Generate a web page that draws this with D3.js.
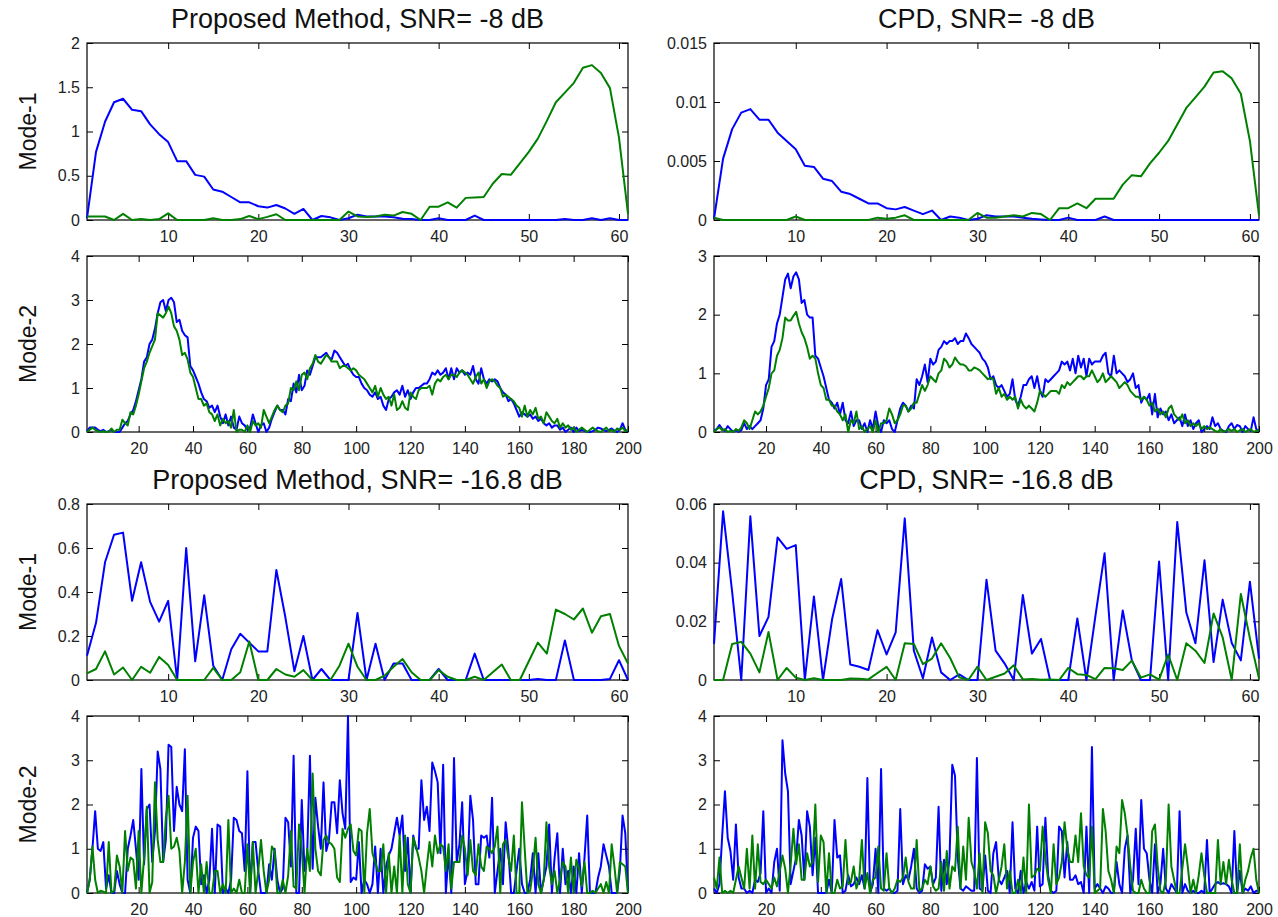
<!DOCTYPE html>
<html>
<head>
<meta charset="utf-8">
<script src="https://cdn.jsdelivr.net/npm/d3@7"></script>
<style>
  body { margin: 0; background: #fff; }
  svg { display: block; font-family: "Liberation Sans", Arial, Helvetica, sans-serif; }
</style>
</head>
<body>
<div id="chart"></div>
<script>
// ---- data ----
const mode1Ticks = [10, 20, 30, 40, 50, 60];
const mode2Ticks = [20, 40, 60, 80, 100, 120, 140, 160, 180, 200];

// Proposed method, SNR = -8 dB
const p8Mode1Blue = [0.02,0.77,1.11,1.33,1.37,1.245,1.23,1.08,0.97,0.88,
  0.665,0.665,0.51,0.49,0.345,0.32,0.26,0.2,0.2,0.155,
  0.14,0.17,0.13,0.07,0.125,0,0.045,0.03,0,0.02,
  0.06,0.04,0.04,0.04,0.03,0.015,0.01,0,0,0.02,
  0,0,0,0.05,0,0,0,0,0,0,
  0,0,0,0.01,0,0,0.02,0,0.02,0,
  0];
const p8Mode1Green = [0.04,0.04,0.04,0,0.07,0,0.01,0,0.01,0.075,
  0,0,0,0,0.02,0,0,0.01,0.045,0.01,
  0.035,0.065,0,0,0,0,0,0,0,0.095,
  0.04,0.035,0.04,0.06,0.05,0.09,0.07,0,0.15,0.15,
  0.2,0.14,0.25,0.255,0.26,0.41,0.52,0.51,0.64,0.77,
  0.92,1.12,1.33,1.44,1.55,1.72,1.75,1.66,1.49,0.93,
  0.07];
const p8Mode2Blue = [0.02,0.1,0.1,0.1,0.05,0.02,0.05,0.0,0.02,0.05,
  0.0,0.0,0.0,0.1,0.2,0.25,0.4,0.5,0.7,0.95,
  1.2,1.6,1.7,2.0,2.1,2.35,2.7,2.95,3.0,2.75,
  3.0,3.05,2.95,2.5,2.55,2.3,2.2,2.15,1.5,1.4,
  1.25,1.1,0.9,0.75,0.7,0.55,0.6,0.45,0.6,0.35,
  0.2,0.4,0.15,0.35,0.1,0.05,0.35,0.2,0.15,0.05,
  0.1,0.4,0.2,0.0,0.15,0.2,0.0,0.1,0.3,0.45,
  0.6,0.5,0.5,0.4,0.75,0.7,1.1,0.9,1.3,0.95,
  1.05,1.4,1.3,1.5,1.7,1.7,1.7,1.75,1.8,1.7,
  1.65,1.85,1.8,1.7,1.6,1.5,1.55,1.4,1.3,1.25,
  1.25,1.1,1.0,0.95,0.85,0.8,0.9,0.75,0.8,0.6,
  0.5,0.75,0.8,0.9,0.95,0.85,1.05,0.8,0.95,0.75,
  0.9,1.0,1.0,1.05,1.1,1.1,1.2,1.35,1.3,1.4,
  1.3,1.35,1.45,1.2,1.45,1.2,1.45,1.35,1.4,1.3,
  1.35,1.3,1.5,1.2,1.1,1.45,1.2,1.1,1.2,1.15,
  1.2,1.15,1.0,0.9,0.85,0.7,0.75,0.65,0.5,0.35,
  0.45,0.4,0.35,0.4,0.3,0.35,0.25,0.3,0.2,0.15,
  0.2,0.1,0.15,0.15,0.05,0.1,0.0,0.05,0.1,0.0,
  0.1,0.02,0.05,0.03,0.0,0.0,0.02,0.05,0.1,0.08,
  0.05,0.02,0.05,0.08,0.03,0.0,0.05,0.2,0.05,0.02];
const p8Mode2Green = [0.0,0.05,0.1,0.05,0.02,0.0,0.02,0.0,0.0,0.08,
  0.0,0.05,0.05,0.28,0.2,0.15,0.45,0.4,0.6,0.85,
  1.15,1.45,1.6,1.8,1.95,2.1,2.7,2.65,2.6,2.7,
  2.85,2.7,2.4,2.3,2.1,1.75,1.8,1.65,1.35,1.25,
  1.0,0.75,0.75,0.6,0.65,0.45,0.4,0.25,0.4,0.15,
  0.3,0.2,0.25,0.1,0.5,0.0,0.05,0.05,0.0,0.15,
  0.0,0.25,0.15,0.2,0.1,0.5,0.35,0.2,0.35,0.5,
  0.6,0.5,0.45,0.6,0.65,1.0,0.95,1.15,0.95,1.3,
  1.35,1.2,1.45,1.55,1.75,1.6,1.55,1.65,1.75,1.7,
  1.6,1.6,1.6,1.45,1.5,1.5,1.45,1.4,1.45,1.4,
  1.3,1.25,1.2,1.1,1.0,0.9,1.05,0.8,1.0,0.85,
  0.75,0.8,0.6,0.85,0.5,0.55,0.7,0.55,0.5,0.9,
  0.8,0.75,0.95,1.0,1.0,1.0,1.05,0.85,1.1,1.2,
  1.15,1.25,1.3,1.2,1.3,1.3,1.25,1.35,1.4,1.35,
  1.3,1.2,1.1,1.25,1.35,1.1,1.2,1.0,1.15,1.2,
  1.15,1.05,1.0,0.8,0.85,0.8,0.75,0.7,0.6,0.55,
  0.35,0.6,0.35,0.5,0.4,0.55,0.3,0.35,0.2,0.45,
  0.35,0.25,0.2,0.3,0.1,0.2,0.1,0.15,0.05,0.1,
  0.0,0.05,0.1,0.05,0.0,0.05,0.1,0.05,0.02,0.0,
  0.05,0.1,0.02,0.05,0.0,0.08,0.05,0.1,0.02,0.05];

// CPD, SNR = -8 dB
const c8Mode1Blue = [0.0001,0.0052,0.0077,0.0091,0.0094,0.0085,0.0085,0.0074,0.0067,0.006,
  0.0046,0.0045,0.0035,0.0033,0.0024,0.0022,0.0018,0.0014,0.0014,0.001,
  0.0009,0.0011,0.0008,0.0005,0.0008,0,0.0003,0.0002,0,0.0001,
  0.0004,0.0003,0.0003,0.0003,0.0002,0.0001,0.00005,0,0,0.0002,
  0,0,0,0.0003,0,0,0,0,0,0,
  0,0,0,0,0,0,0,0,0,0,
  0];
const c8Mode1Green = [0.0002,0,0,0,0,0,0,0,0,0.0003,
  0,0,0,0,0,0,0,0,0.0002,0.0001,
  0.0002,0.0004,0,0,0,0,0,0,0,0.0006,
  0.0002,0.0002,0.0003,0.0004,0.0003,0.0006,0.0005,0,0.001,0.001,
  0.0014,0.001,0.0018,0.0018,0.0018,0.003,0.0038,0.0037,0.0048,0.0057,
  0.0067,0.0081,0.0095,0.0104,0.0113,0.0125,0.0126,0.012,0.0107,0.0067,
  0.0004];
const c8Mode2Blue = [0.02,0.05,0.12,0.05,0.02,0.1,0.05,0.0,0.03,0.0,
  0.03,0.15,0.05,0.1,0.05,0.1,0.15,0.2,0.4,0.8,
  0.9,1.45,1.55,1.85,2.0,2.3,2.6,2.7,2.45,2.65,
  2.72,2.6,2.2,2.25,2.0,1.95,1.95,1.3,1.25,1.1,
  0.95,0.75,0.55,0.5,0.4,0.5,0.3,0.5,0.2,0.15,
  0.35,0.1,0.2,0.2,0.05,0.15,0.0,0.2,0.05,0.35,
  0.1,0.0,0.2,0.15,0.2,0.05,0.0,0.2,0.4,0.5,
  0.45,0.35,0.45,0.4,0.9,0.8,0.95,1.15,0.85,1.25,
  1.15,1.2,1.4,1.45,1.55,1.5,1.55,1.55,1.6,1.5,
  1.55,1.55,1.68,1.6,1.5,1.45,1.4,1.35,1.25,1.2,
  1.1,0.9,0.95,0.8,0.75,0.8,0.7,0.6,0.65,0.9,
  0.55,0.45,0.6,0.8,0.8,0.9,0.95,0.75,0.95,0.7,
  0.6,0.9,0.85,0.9,0.95,1.0,1.05,1.2,1.15,1.2,
  1.05,1.25,1.0,1.3,1.1,1.25,0.95,1.25,1.15,1.2,
  1.2,1.2,1.3,1.35,1.0,0.95,1.3,1.0,1.05,1.0,
  0.95,0.85,0.9,1.0,0.75,0.8,0.5,0.6,0.55,0.65,
  0.3,0.65,0.25,0.4,0.3,0.35,0.2,0.3,0.15,0.2,
  0.25,0.1,0.3,0.1,0.2,0.05,0.15,0.2,0.0,0.05,
  0.1,0.05,0.25,0.1,0.15,0.05,0.02,0.0,0.1,0.15,
  0.05,0.12,0.1,0.0,0.1,0.05,0.02,0.25,0.05,0.02];
const c8Mode2Green = [0.0,0.05,0.08,0.03,0.05,0.0,0.02,0.0,0.05,0.02,
  0.08,0.2,0.15,0.05,0.2,0.35,0.3,0.35,0.45,0.6,
  0.75,1.0,1.05,1.3,1.4,1.6,1.95,1.9,1.9,1.98,
  2.05,1.85,1.7,1.6,1.45,1.25,1.3,1.25,1.0,0.8,
  0.75,0.55,0.55,0.45,0.45,0.35,0.3,0.2,0.3,0.0,
  0.2,0.15,0.35,0.05,0.1,0.0,0.05,0.1,0.0,0.2,
  0.0,0.15,0.15,0.2,0.4,0.3,0.15,0.2,0.3,0.45,
  0.45,0.35,0.4,0.5,0.5,0.65,0.8,0.7,0.8,0.95,
  0.9,0.85,1.0,1.05,1.25,1.2,1.1,1.15,1.27,1.2,
  1.15,1.15,1.12,1.05,1.05,1.1,1.08,1.05,1.0,0.95,
  0.9,0.92,0.9,0.65,0.75,0.6,0.65,0.55,0.6,0.55,
  0.6,0.4,0.55,0.45,0.4,0.45,0.4,0.35,0.5,0.7,
  0.65,0.6,0.65,0.7,0.7,0.7,0.65,0.8,0.75,0.85,
  0.8,0.85,0.9,0.95,0.95,0.9,0.95,0.95,1.05,0.95,
  0.85,0.9,1.0,0.85,0.9,0.95,0.9,0.85,0.75,0.8,
  0.85,0.8,0.7,0.65,0.6,0.6,0.55,0.6,0.55,0.45,
  0.5,0.35,0.4,0.3,0.35,0.25,0.4,0.45,0.3,0.25,
  0.2,0.3,0.15,0.2,0.1,0.15,0.1,0.15,0.05,0.1,
  0.05,0.08,0.05,0.02,0.0,0.05,0.0,0.02,0.05,0.02,
  0.05,0.0,0.03,0.05,0.0,0.03,0.05,0.0,0.02,0.03];

// Proposed method, SNR = -16.8 dB
const p16Mode1Blue = [0.11,0.26,0.535,0.66,0.67,0.36,0.535,0.355,0.265,0.36,
  0,0.6,0.085,0.385,0.065,0,0.14,0.21,0.17,0.13,
  0.13,0.5,0.285,0.04,0.2,0,0.05,0,0,0,
  0.305,0,0.165,0,0.075,0.075,0,0,0,0.05,
  0,0,0,0.12,0,0,0,0,0,0,
  0.005,0,0,0.18,0,0,0,0,0.005,0.09,
  0];
const p16Mode1Green = [0.03,0.05,0.13,0.025,0.057,0,0.06,0.033,0.105,0.068,
  0,0,0,0,0.055,0,0,0.035,0.175,0,
  0,0.05,0.025,0.015,0.045,0,0,0,0.065,0.165,
  0.06,0,0,0.02,0.06,0.095,0.035,0,0,0.045,
  0.015,0,0,0.015,0,0.035,0.07,0,0,0.085,
  0.17,0.12,0.32,0.3,0.275,0.325,0.215,0.29,0.3,0.155,
  0.075];
const p16Mode2Blue = [0.0,0.3,1.0,1.85,1.0,0.95,1.15,0.1,0.4,0.0,
  0.0,0.5,0.2,0.0,0.0,1.0,1.3,1.65,1.0,0.3,
  2.8,0.65,1.9,2.0,0.7,1.4,3.2,2.8,0.7,1.2,
  3.35,3.3,1.4,2.4,2.0,1.85,3.25,0.3,0.0,1.25,
  1.5,1.4,0.2,0.4,0.0,0.3,1.45,0.0,1.55,1.5,
  0.0,0.1,0.0,0.3,1.7,1.65,1.4,1.35,0.5,2.75,
  0.0,1.15,1.15,0.5,0.0,0.0,0.0,0.65,0.3,1.0,
  0.3,0.0,0.1,1.7,1.6,0.6,3.1,0.0,0.0,2.1,
  0.5,0.9,3.1,0.55,2.15,1.5,1.0,2.5,0.95,1.2,
  2.05,2.05,1.35,2.55,1.8,1.45,4.0,0.25,0.35,0.3,
  1.15,0.0,0.3,0.2,0.0,0.2,1.05,0.0,1.0,0.0,
  0.6,0.85,1.0,1.35,1.7,1.3,1.75,0.5,1.25,0.0,
  1.3,1.0,1.0,2.55,1.65,1.95,1.4,2.95,2.75,2.5,
  0.9,2.9,0.0,0.9,0.0,3.05,0.7,1.1,2.05,0.2,
  0.5,2.2,1.65,0.2,0.2,1.3,1.25,1.3,0.8,2.15,
  0.0,0.5,1.0,0.2,1.6,0.95,0.0,0.0,0.5,1.0,
  0.2,0.0,0.0,0.3,0.9,0.0,0.9,0.0,0.3,0.6,
  1.55,0.0,0.8,1.35,0.0,1.0,0.2,0.5,0.0,0.6,
  0.0,0.9,0.0,0.8,1.75,0.0,0.0,0.0,0.35,0.6,
  1.1,0.85,0.6,0.0,0.0,0.0,0.5,1.75,1.35,0.0];
const p16Mode2Green = [0.0,0.3,1.05,0.3,0.0,0.05,0.03,0.0,1.15,0.0,
  0.05,0.85,0.6,0.0,1.4,0.5,0.8,0.75,0.1,1.4,
  0.0,0.8,1.95,0.0,0.25,2.5,1.2,0.7,0.7,1.7,
  2.2,1.0,1.05,1.25,0.95,0.0,0.7,2.2,0.0,0.7,
  1.0,0.0,0.65,0.0,0.7,0.0,0.0,0.5,0.5,0.0,
  0.2,0.0,1.65,0.0,0.1,0.0,0.3,0.0,0.0,1.1,
  0.0,1.15,0.0,0.5,1.2,0.5,0.0,0.3,1.05,0.95,
  0.0,0.0,0.3,0.0,0.4,1.4,0.15,0.1,1.55,1.0,
  0.0,1.0,0.5,2.7,1.0,0.5,0.4,1.2,1.3,1.15,
  1.1,1.0,0.35,0.25,1.45,1.25,1.45,1.55,0.95,0.85,
  1.45,1.4,0.0,1.35,1.9,0.9,0.7,0.5,0.5,1.1,
  0.0,0.9,0.0,0.6,0.0,1.3,0.0,1.3,0.2,0.0,
  1.25,1.05,0.8,0.5,0.0,0.6,1.15,0.6,1.3,0.9,
  1.1,1.05,0.5,1.1,0.1,0.7,0.7,0.7,1.3,1.0,
  0.4,1.2,0.5,0.4,1.1,0.6,0.5,1.05,1.0,0.9,
  1.05,1.5,0.0,1.1,1.2,0.8,0.5,1.3,0.0,0.0,
  2.05,1.0,0.0,0.05,0.5,1.25,0.2,0.0,0.3,1.6,
  0.6,0.2,0.5,0.0,0.3,0.7,0.6,0.0,0.8,0.0,
  0.75,0.55,0.15,0.7,0.0,0.0,0.05,0.0,0.1,0.2,
  0.0,0.25,0.0,1.1,0.6,0.0,0.7,0.65,0.6,0.0];

// CPD, SNR = -16.8 dB
const c16Mode1Blue = [0.0123,0.0575,0.03,0,0.0558,0.015,0.0215,0.0486,0.0447,0.046,
  0,0.0285,0,0.0207,0.0344,0.0053,0.0045,0.0034,0.017,0.0087,
  0.0162,0.0551,0.01,0.0006,0.0145,0.0026,0,0.0019,0,0,
  0.0342,0.01,0.0056,0,0.029,0.009,0.014,0,0,0,
  0.021,0,0.022,0.0432,0,0.0237,0.0067,0,0,0.0404,
  0,0.0539,0.023,0.0125,0.0408,0.0061,0.0274,0.0126,0.0067,0.0335,
  0.0073];
const c16Mode1Green = [0,0,0.0123,0.013,0.009,0.0026,0.0164,0,0.0041,0.0008,
  0,0.0006,0,0,0,0.0005,0.0004,0.0002,0.0024,0.0045,
  0,0.0125,0.0123,0.0054,0.0073,0.0125,0.0075,0.0009,0,0.0045,
  0,0.0011,0.0022,0.005,0.0002,0.0003,0.0001,0.0002,0,0.0041,
  0.002,0.0017,0.0003,0.0041,0.004,0.0034,0.0066,0.0008,0.0019,0.0001,
  0.0087,0,0.0125,0.01,0.0058,0.0227,0.0145,0,0.0293,0.0142,
  0.0005];
const c16Mode2Blue = [0.1,0.0,0.2,1.3,2.3,1.25,0.95,0.3,1.55,0.35,
  0.1,0.1,0.0,0.05,0.0,0.3,0.25,0.45,1.85,0.0,
  0.1,0.0,0.7,1.0,0.05,3.45,2.7,2.3,0.2,0.5,
  0.8,1.65,1.3,0.3,1.85,1.5,0.4,1.25,0.0,0.0,
  0.0,0.0,0.3,0.0,1.65,0.8,0.85,0.0,0.05,0.4,
  0.15,0.2,0.35,0.2,0.4,0.1,2.6,0.0,0.2,1.0,
  0.0,2.8,0.1,0.05,0.1,0.0,0.0,0.05,1.9,0.2,
  0.4,0.3,0.6,1.0,0.1,0.0,0.05,0.65,0.55,0.6,
  0.2,0.35,1.95,0.05,0.75,0.2,0.8,2.9,2.65,0.8,
  0.1,0.05,0.15,0.1,0.05,0.05,3.05,0.1,0.05,0.85,
  0.05,0.0,0.9,1.15,0.3,0.2,0.35,0.5,0.0,1.6,
  0.1,0.0,0.5,0.0,0.25,0.1,0.25,0.05,1.5,0.15,
  0.2,1.7,0.4,0.05,0.0,0.05,1.5,1.4,0.35,1.15,
  0.3,0.3,0.4,0.2,0.25,0.0,1.5,0.0,3.3,0.1,
  0.2,0.1,0.0,0.15,0.1,0.0,0.0,0.7,0.2,0.0,
  1.0,1.3,0.0,0.3,1.45,0.2,2.1,1.0,0.9,0.3,
  0.0,1.1,0.0,0.2,1.0,0.1,0.0,0.2,0.1,0.0,
  1.85,0.0,0.2,0.05,0.0,0.05,0.0,0.0,0.05,0.0,
  1.2,0.0,0.1,0.2,0.25,0.2,0.22,0.2,0.15,0.0,
  1.4,0.0,0.5,0.0,0.1,0.05,0.15,0.0,0.05,0.05];
const c16Mode2Green = [0.35,0.1,0.8,0.0,0.05,0.0,0.05,0.0,0.3,0.6,
  0.35,0.1,1.0,0.1,1.3,0.1,1.1,0.25,0.2,0.3,
  0.2,0.1,0.35,0.15,0.5,0.85,0.55,0.0,0.65,1.45,
  0.65,1.1,0.3,0.3,0.9,0.6,0.7,2.0,0.25,1.3,
  1.15,0.0,0.9,0.0,0.0,0.3,0.1,0.15,1.2,0.2,
  0.25,0.6,0.1,0.3,1.2,0.1,0.45,0.0,0.3,0.35,
  1.05,0.1,0.05,0.9,0.1,0.0,0.1,0.3,0.25,0.35,
  0.8,0.25,0.1,0.1,1.2,0.05,0.1,0.3,0.2,0.6,
  0.15,0.05,0.1,0.7,0.05,0.95,0.1,0.6,0.5,1.5,
  0.1,1.05,0.3,1.7,0.7,0.5,0.1,0.9,0.0,1.6,
  1.35,0.5,0.4,0.0,0.3,0.6,1.1,0.1,0.5,0.0,
  0.0,0.3,0.0,0.8,0.0,2.0,0.35,0.4,0.55,0.5,
  1.5,0.8,0.3,0.0,1.1,0.2,0.35,0.7,1.6,1.0,
  0.7,0.7,1.3,0.7,1.8,0.6,0.4,0.35,1.5,0.0,
  0.05,0.1,1.9,1.4,0.5,0.3,0.0,1.05,0.9,2.1,
  1.8,1.3,0.6,0.05,0.0,0.0,0.3,0.1,0.0,0.0,
  1.4,1.55,0.6,0.05,0.0,0.3,2.0,0.6,0.3,0.0,
  0.0,0.55,1.1,0.6,0.0,0.3,0.0,0.4,0.9,0.4,
  0.0,0.0,0.0,0.0,1.2,0.2,0.7,0.2,0.75,0.3,
  0.0,0.0,1.1,0.0,0.3,0.5,0.8,1.0,0.3,0.0];

// ---- layout ----
const W = 1278, H = 917;
const cols = [{ left: 87, right: 628 }, { left: 714, right: 1259 }];
const rows = [{ top: 43, bottom: 220 }, { top: 256, bottom: 432 }, { top: 504, bottom: 680 }, { top: 716, bottom: 893 }];
const BLUE = '#0000ff', GREEN = '#008000';

const panels = [
  { row: 0, col: 0, n: 61, xTicks: mode1Ticks, yMax: 2, yTicks: [0, 0.5, 1, 1.5, 2], blue: p8Mode1Blue, green: p8Mode1Green, title: 'Proposed Method, SNR= -8 dB', ylabel: 'Mode-1' },
  { row: 0, col: 1, n: 61, xTicks: mode1Ticks, yMax: 0.015, yTicks: [0, 0.005, 0.01, 0.015], blue: c8Mode1Blue, green: c8Mode1Green, title: 'CPD, SNR= -8 dB' },
  { row: 1, col: 0, n: 200, xTicks: mode2Ticks, yMax: 4, yTicks: [0, 1, 2, 3, 4], blue: p8Mode2Blue, green: p8Mode2Green, ylabel: 'Mode-2' },
  { row: 1, col: 1, n: 200, xTicks: mode2Ticks, yMax: 3, yTicks: [0, 1, 2, 3], blue: c8Mode2Blue, green: c8Mode2Green },
  { row: 2, col: 0, n: 61, xTicks: mode1Ticks, yMax: 0.8, yTicks: [0, 0.2, 0.4, 0.6, 0.8], blue: p16Mode1Blue, green: p16Mode1Green, title: 'Proposed Method, SNR= -16.8 dB', ylabel: 'Mode-1' },
  { row: 2, col: 1, n: 61, xTicks: mode1Ticks, yMax: 0.06, yTicks: [0, 0.02, 0.04, 0.06], blue: c16Mode1Blue, green: c16Mode1Green, title: 'CPD, SNR= -16.8 dB' },
  { row: 3, col: 0, n: 200, xTicks: mode2Ticks, yMax: 4, yTicks: [0, 1, 2, 3, 4], blue: p16Mode2Blue, green: p16Mode2Green, ylabel: 'Mode-2' },
  { row: 3, col: 1, n: 200, xTicks: mode2Ticks, yMax: 4, yTicks: [0, 1, 2, 3, 4], blue: c16Mode2Blue, green: c16Mode2Green }
];

const svg = d3.select('#chart').append('svg')
  .attr('width', W)
  .attr('height', H);

panels.forEach(p => {
  const c = cols[p.col], r = rows[p.row];
  const x = d3.scaleLinear().domain([1, p.n]).range([c.left, c.right]);
  const y = d3.scaleLinear().domain([0, p.yMax]).range([r.bottom, r.top]);
  const g = svg.append('g');
  const tick = 6;

  // axes, MATLAB style: ticks pointing inward on all four sides
  g.append('g')
    .attr('transform', `translate(0,${r.bottom})`)
    .call(d3.axisBottom(x).tickValues(p.xTicks).tickFormat(d => d).tickSizeInner(-tick).tickSizeOuter(0).tickPadding(11));
  g.append('g')
    .attr('transform', `translate(0,${r.top})`)
    .call(d3.axisTop(x).tickValues(p.xTicks).tickFormat('').tickSizeInner(-tick).tickSizeOuter(0));
  g.append('g')
    .attr('transform', `translate(${c.left},0)`)
    .call(d3.axisLeft(y).tickValues(p.yTicks).tickFormat(d => String(d)).tickSizeInner(-tick).tickSizeOuter(0).tickPadding(7));
  g.append('g')
    .attr('transform', `translate(${c.right},0)`)
    .call(d3.axisRight(y).tickValues(p.yTicks).tickFormat('').tickSizeInner(-tick).tickSizeOuter(0));

  g.selectAll('.domain').remove();
  g.selectAll('.tick line').attr('stroke', '#000');
  g.selectAll('.tick text')
    .attr('fill', '#222')
    .style('font-size', '16px')
    .style('font-family', '"Liberation Sans", Arial, sans-serif');

  g.append('rect')
    .attr('x', c.left).attr('y', r.top)
    .attr('width', c.right - c.left).attr('height', r.bottom - r.top)
    .attr('fill', 'none').attr('stroke', '#000').attr('stroke-width', 1.2);

  const line = d3.line()
    .x((d, i) => x(i + 1))
    .y(d => y(d));

  [[p.blue, BLUE], [p.green, GREEN]].forEach(([vals, col]) => {
    g.append('path')
      .datum(vals)
      .attr('fill', 'none')
      .attr('stroke', col)
      .attr('stroke-width', 2)
      .attr('stroke-linejoin', 'round')
      .attr('d', line);
  });

  if (p.title) {
    g.append('text')
      .attr('x', (c.left + c.right) / 2)
      .attr('y', r.top - 15)
      .attr('text-anchor', 'middle')
      .style('font-size', '27px')
      .attr('fill', '#111')
      .text(p.title);
  }
  if (p.ylabel) {
    g.append('text')
      .attr('transform', `translate(36,${(r.top + r.bottom) / 2}) rotate(-90)`)
      .attr('text-anchor', 'middle')
      .style('font-size', '23px')
      .attr('fill', '#111')
      .text(p.ylabel);
  }
});
</script>
</body>
</html>
